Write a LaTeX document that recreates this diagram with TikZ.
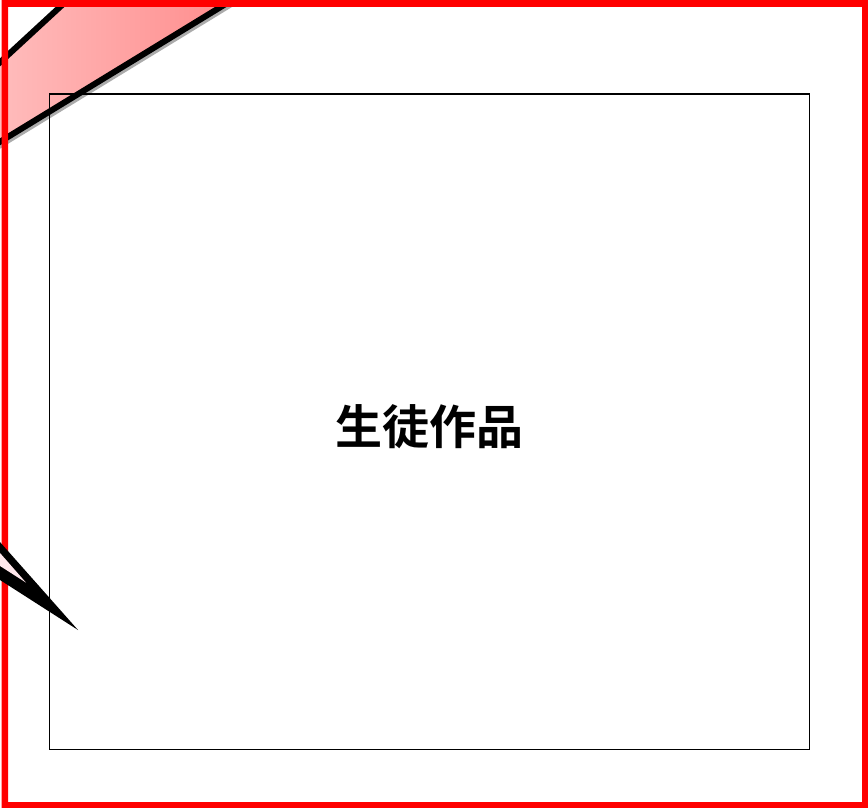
\documentclass[tikz,border=0pt]{standalone}
\usepackage{fontspec}
\newfontfamily\cjk{Noto Sans CJK JP}[BoldFont={Noto Sans CJK JP Bold}]
\definecolor{pinkL}{RGB}{255,192,192}
\definecolor{pinkR}{RGB}{255,140,140}
\definecolor{spikefill}{RGB}{255,232,236}
\definecolor{framered}{RGB}{255,0,0}
\tikzset{
  edgeline/.style={draw=black, line width=6pt},
  shadowline/.style={draw=black!55, line width=6pt, opacity=0.6},
  panel/.style={draw=black, line width=1.6pt},
  title/.style={font=\cjk\bfseries\fontsize{47}{51}\selectfont, inner sep=0pt}
}
\begin{document}
\begin{tikzpicture}[x=1pt,y=-1pt]
\useasboundingbox (0,0) rectangle (868,808);
\fill[white] (0,0) rectangle (868,808);
% pink band (top-left)
\coordinate (u1) at (69.7,-2);
\coordinate (u2) at (-20,80.8);
\coordinate (l1) at (235.4,-2);
\coordinate (l2) at (-20,154);
\begin{scope}
\clip (0,0) rectangle (868,808);
\shade[left color=pinkL, right color=pinkR] (u1) -- (u2) -- (l2) -- (l1) -- cycle;
\draw[shadowline] ([shift={(1.5,2.5)}]l1) -- ([shift={(1.5,2.5)}]l2);
\draw[edgeline] (u1) -- (u2);
\draw[edgeline] (l1) -- (l2);
\end{scope}
% red frame
\fill[framered, even odd rule] (1.5,0) rectangle (868,808) (8,7) rectangle (862,802);
% spike (bottom-left)
\coordinate (tip) at (78,630);
\coordinate (so1) at (-2,539.8);
\coordinate (so2) at (-2,578.7);
\coordinate (si1) at (-2,550.7);
\coordinate (itip) at (26,582.6);
\coordinate (si2) at (-2,564.7);
\fill[black] (so1) -- (tip) -- (so2) -- cycle;
\fill[spikefill] (si1) -- (itip) -- (si2) -- cycle;
% panel
\draw[panel] (49.3,94.3) rectangle (809.3,749.3);
\node[title] (t) at (429,427) {生徒作品};
\end{tikzpicture}
\end{document}
